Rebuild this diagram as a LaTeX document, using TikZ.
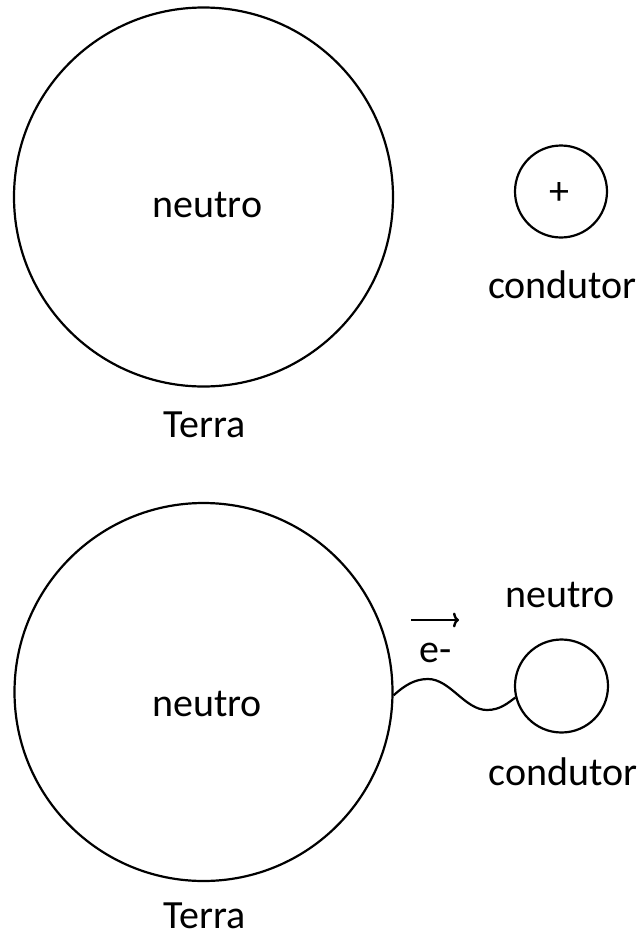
\documentclass[tikz,border=0pt]{standalone}
\usepackage{fontspec}
\setmainfont{Carlito}
\usetikzlibrary{arrows.meta}
\begin{document}
\begin{tikzpicture}[x=1pt,y=-1pt,
  ring/.style={circle,draw=black,line width=2.2pt,inner sep=0pt},
  lbl/.style={font=\fontsize{40}{48}\selectfont,inner sep=0pt,anchor=base},
  wire/.style={line width=2.2pt,draw=black}]
\useasboundingbox (0,0) rectangle (643,937);
% top panel
\node[ring,minimum size=379pt] (earthA) at (203.5,197) {};
\node[lbl] (neutroA) at (207.5,217) {neutro};
\node[lbl] (terraA) at (205,437) {Terra};
\node[ring,minimum size=92pt] (condA) at (561,191.5) {};
\node[font=\fontsize{40}{48}\selectfont,inner sep=0pt] (plusA) at (559,194) {+};
\node[lbl] (condLblA) at (562.5,298) {condutor};
% bottom panel
\node[ring,minimum size=378pt] (earthB) at (203.5,692) {};
\node[lbl] (neutroB) at (207,716) {neutro};
\node[lbl] (terraB) at (205,928) {Terra};
\node[ring,minimum size=93pt] (condB) at (561.5,686) {};
\node[lbl] (neutroC) at (560,607) {neutro};
\node[lbl] (condLblB) at (563,785) {condutor};
\node[lbl] (eminus) at (436,662) {e-};
\coordinate (arrS) at (411,620);
\coordinate (arrE) at (459,620);
\draw[line width=2.4pt,-{To[length=6pt,width=15pt]}] (arrS) -- (arrE);
\draw[wire] (earthB.-1.5) .. controls (405,685) and (415,679) .. (428,679)
  .. controls (450,679) and (465,710) .. (487,710)
  .. controls (500,710) and (508,703) .. (condB.194);
\end{tikzpicture}
\end{document}
